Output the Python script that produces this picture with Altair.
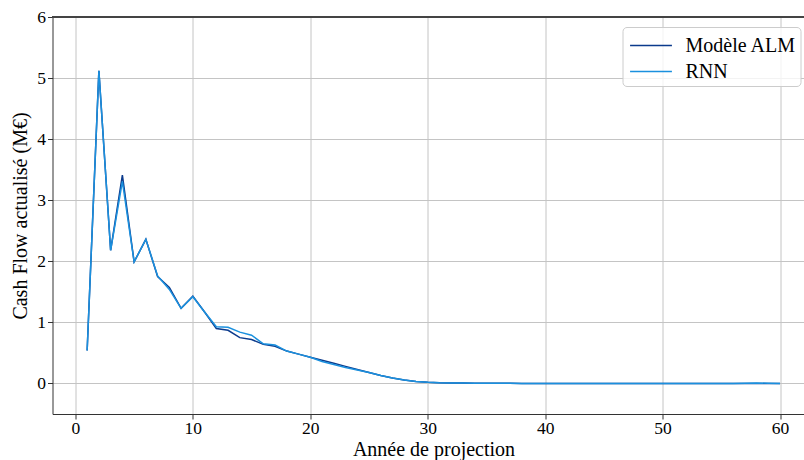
import altair as alt
import pandas as pd

years = list(range(1, 61))
alm = [0.54, 5.12, 2.18, 3.41, 1.99, 2.36, 1.75, 1.57, 1.23, 1.43,
       1.17, 0.90, 0.87, 0.75, 0.72, 0.64, 0.61, 0.53, 0.48, 0.43,
       0.38, 0.33, 0.28, 0.23, 0.18, 0.13, 0.09, 0.055, 0.033, 0.02,
       0.012, 0.009, 0.007, 0.005, 0.004, 0.003, 0.002, 0.001, 0.0, -0.001,
       -0.001, -0.001, -0.001, 0.0, 0.0, 0.0, 0.0, 0.0, 0.0, 0.0,
       0.0, 0.0, 0.0, 0.0, 0.0, 0.0, 0.0, 0.001, 0.0, 0.0]
rnn = [0.54, 5.12, 2.18, 3.31, 1.99, 2.36, 1.76, 1.54, 1.23, 1.42,
       1.17, 0.93, 0.92, 0.84, 0.79, 0.65, 0.63, 0.53, 0.48, 0.43,
       0.36, 0.31, 0.26, 0.22, 0.18, 0.13, 0.09, 0.055, 0.033, 0.02,
       0.012, 0.009, 0.007, 0.005, 0.004, 0.003, 0.002, 0.001, 0.0, -0.001,
       -0.001, -0.001, -0.001, 0.0, 0.0, 0.0, 0.0, 0.0, 0.0, 0.001,
       0.001, 0.001, 0.0, 0.0, 0.0, 0.0, 0.004, 0.008, 0.003, 0.0]
series_names = ["Modèle ALM", "RNN"]
series_colors = ["#0b3a8c", "#1a90de"]

df = pd.DataFrame({
    "annee": years * 2,
    "cf": alm + rnn,
    "serie": [series_names[0]] * len(years) + [series_names[1]] * len(years),
})

FONT = "Liberation Serif"

axis_common = dict(labelFont=FONT, labelFontSize=17.5, labelColor="black",
                   labelFontWeight="normal",
                   titleFont=FONT, titleFontSize=20, titleColor="black",
                   titleFontWeight="normal")

x = alt.X("annee:Q",
          scale=alt.Scale(domain=[-1.95, 62.04], nice=False, zero=False),
          axis=alt.Axis(title="Année de projection", values=[0, 10, 20, 30, 40, 50, 60],
                        format="d", titleX=381, titleY=41, titleBaseline="alphabetic",
                        labelPadding=0, **axis_common))
y = alt.Y("cf:Q",
          scale=alt.Scale(domain=[-0.5, 6], nice=False),
          axis=alt.Axis(title="Cash Flow actualisé (M€)", values=[0, 1, 2, 3, 4, 5, 6],
                        format="d", titlePadding=6, labelPadding=2, **axis_common))

lines = alt.Chart(df).mark_line(strokeWidth=1.5).encode(
    x=x, y=y,
    color=alt.Color("serie:N",
                    scale=alt.Scale(domain=series_names, range=series_colors),
                    legend=alt.Legend(title=None, orient="none", legendX=570, legendY=10,
                                      direction="vertical",
                                      symbolType="M-1.55,0H1.55", symbolSize=729,
                                      symbolStrokeWidth=1.5, symbolOffset=10,
                                      labelOffset=20, labelFontSize=20, labelFont=FONT,
                                      labelColor="black",
                                      fillColor="rgba(255,255,255,0.8)", strokeColor="#cccccc",
                                      cornerRadius=4, padding=4, rowPadding=1)),
    order=alt.Order("serie:N"),
)

top_rule = alt.Chart(df).mark_rule(color="#444444", strokeWidth=1).encode(y=alt.datum(6))

chart = alt.layer(lines, top_rule).properties(
    width=751.5, height=397,
    padding={"left": 52.5, "top": 17, "right": 0, "bottom": 46},
    autosize="none",
).configure(font=FONT).configure_view(stroke=None).configure_axis(
    domainColor="#333333", tickColor="#333333", tickSize=5,
    gridColor="#c4c4c4", gridWidth=1,
)

chart.save("out.html", embed_options={"renderer": "svg", "actions": False})
